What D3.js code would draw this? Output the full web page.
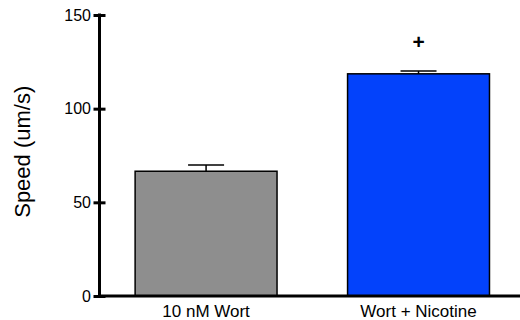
<!DOCTYPE html>
<html>
<head>
<meta charset="utf-8">
<script src="https://cdn.jsdelivr.net/npm/d3@7"></script>
<style>
  body { margin: 0; background: #fff; }
  text { font-family: Arial, "Liberation Sans", sans-serif; }
</style>
</head>
<body>
<div id="chart"></div>
<script>
// data
var categories = ["10 nM Wort", "Wort + Nicotine"];
var speeds = [66.6, 118.6];
var errors = [3.3, 1.5];
var colors = ["#8e8e8e", "#0342fb"];
var marks = ["", "+"];
var yTicks = [0, 50, 100, 150];

var w = 520, h = 320;
var axisX = 99.5, axisY = 296;

var svg = d3.select("#chart")
  .append("svg")
  .attr("width", w)
  .attr("height", h);

var x = d3.scaleBand()
  .domain(categories)
  .range([99, 525.6])
  .paddingInner(0.332)
  .paddingOuter(0.17);

var y = d3.scaleLinear()
  .domain([0, 150])
  .range([axisY, 15]);

// bars
svg.selectAll("rect.bar")
  .data(speeds)
  .enter()
  .append("rect")
  .attr("class", "bar")
  .attr("x", function(d, i) { return x(categories[i]); })
  .attr("y", function(d) { return y(d); })
  .attr("width", x.bandwidth())
  .attr("height", function(d) { return y(0) - y(d); })
  .attr("fill", function(d, i) { return colors[i]; })
  .attr("stroke", "#000")
  .attr("stroke-width", 1.5);

// error bars (upper only)
var capW = 36;
speeds.forEach(function(d, i) {
  var cx = x(categories[i]) + x.bandwidth() / 2;
  svg.append("line")
    .attr("x1", cx).attr("x2", cx)
    .attr("y1", y(d)).attr("y2", y(d + errors[i]))
    .attr("stroke", "#000").attr("stroke-width", 1.5);
  svg.append("line")
    .attr("x1", cx - capW / 2).attr("x2", cx + capW / 2)
    .attr("y1", y(d + errors[i])).attr("y2", y(d + errors[i]))
    .attr("stroke", "#000").attr("stroke-width", 1.5);
  if (marks[i]) {
    svg.append("text")
      .attr("x", cx)
      .attr("y", y(d + errors[i]) - 22)
      .attr("text-anchor", "middle")
      .attr("font-size", "21px")
      .attr("font-weight", "bold")
      .text(marks[i]);
  }
});

// y axis
var yAxis = svg.append("g")
  .attr("transform", "translate(" + axisX + ",0)")
  .call(d3.axisLeft(y).tickValues(yTicks).tickSize(6).tickPadding(2.5).tickFormat(d3.format("d")));
yAxis.select(".domain").attr("stroke-width", 3).attr("d", "M0," + y(0) + "V" + (y(150) - 1.5));
yAxis.selectAll(".tick line").attr("x2", 6).attr("x1", -6).attr("stroke-width", 3);
yAxis.selectAll(".tick text").attr("font-size", "16px").attr("fill", "#000")
  .attr("font-family", "Arial, 'Liberation Sans', sans-serif");

// x axis
var xAxis = svg.append("g")
  .attr("transform", "translate(0," + y(0) + ")")
  .call(d3.axisBottom(x).tickSize(0).tickPadding(9));
xAxis.select(".domain").attr("stroke-width", 3).attr("d", "M" + (axisX - 1.5) + ",0H" + w);
xAxis.selectAll(".tick text").attr("font-size", "17px").attr("fill", "#000")
  .attr("font-family", "Arial, 'Liberation Sans', sans-serif");

// y title
svg.append("text")
  .attr("transform", "translate(30," + y(77) + ") rotate(-90)")
  .attr("text-anchor", "middle")
  .attr("font-size", "22px")
  .text("Speed (um/s)");
</script>
</body>
</html>
